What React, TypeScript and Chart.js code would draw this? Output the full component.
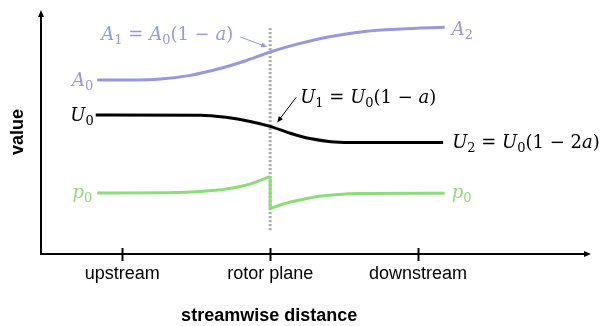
import { useEffect, useRef } from 'react';
import { Chart, registerables } from 'chart.js';

Chart.register(...registerables);

// Streamwise position: rotor plane at 0, one unit between stations.
const stationValues = [-1, 0, 1];
const stationLabels = ['upstream', 'rotor plane', 'downstream'];
const xTitle = 'streamwise distance';
const yTitle = 'value';

// Stream-tube area A
const areaX = [-1.17, -0.95, -0.74, -0.54, -0.34, -0.17, 0, 0.19, 0.41, 0.64, 0.88, 1.18];
const areaY = [71.3, 71.3, 71.7, 73.2, 76.0, 79.1, 82.8, 86.1, 89.1, 91.2, 92.2, 92.9];

// Axial velocity U
const velocityX = [-1.18, -0.47, -0.3, -0.135, 0, 0.135, 0.27, 0.41, 0.54, 1.17];
const velocityY = [57.0, 56.9, 56.0, 54.3, 52.3, 49.5, 47.3, 46.0, 45.7, 45.7];

// Static pressure p, before and after the pressure jump at the rotor
const pressureUpX = [-1.17, -0.68, -0.47, -0.3, -0.135, 0];
const pressureUpY = [25.0, 25.1, 25.6, 26.6, 28.7, 31.7];
const pressureDownX = [0, 0.068, 0.169, 0.304, 0.44, 0.609, 1.18];
const pressureDownY = [18.6, 20.1, 21.7, 23.4, 24.3, 24.8, 24.9];

// Extent of the dotted rotor-plane marker
const rotorLineY = [9.8, 93.4];

const AREA_COLOR = '#9898e0';
const VELOCITY_COLOR = '#000000';
const PRESSURE_COLOR = '#8cdc78';
const ROTOR_COLOR = '#aaaaaa';

type Piece = [string, 'i' | 'n' | 's'];

const labelA0: Piece[] = [['A', 'i'], ['0', 's']];
const labelA1: Piece[] = [['A', 'i'], ['1', 's'], [' = ', 'n'], ['A', 'i'], ['0', 's'], ['(1 − ', 'n'], ['a', 'i'], [')', 'n']];
const labelA2: Piece[] = [['A', 'i'], ['2', 's']];
const labelU0: Piece[] = [['U', 'i'], ['0', 's']];
const labelU1: Piece[] = [['U', 'i'], ['1', 's'], [' = ', 'n'], ['U', 'i'], ['0', 's'], ['(1 − ', 'n'], ['a', 'i'], [')', 'n']];
const labelU2: Piece[] = [['U', 'i'], ['2', 's'], [' = ', 'n'], ['U', 'i'], ['0', 's'], ['(1 − 2', 'n'], ['a', 'i'], [')', 'n']];
const labelP0: Piece[] = [['p', 'i'], ['0', 's']];

const MATH_FAMILY = '"DejaVu Serif", serif';
const MATH_SIZE = 18;
const SANS = '"Liberation Sans", Arial, sans-serif';

const zip = (xs: number[], ys: number[]) => xs.map((x, i) => ({ x, y: ys[i] }));

function pieceFont(kind: string, size: number) {
  if (kind === 'i') return `italic ${size}px ${MATH_FAMILY}`;
  if (kind === 's') return `${Math.round(size * 0.74)}px ${MATH_FAMILY}`;
  return `${size}px ${MATH_FAMILY}`;
}

function mathWidth(ctx: CanvasRenderingContext2D, pieces: Piece[], size: number) {
  let w = 0;
  for (const [t, k] of pieces) {
    ctx.font = pieceFont(k, size);
    w += ctx.measureText(t).width;
  }
  return w;
}

function drawMath(
  ctx: CanvasRenderingContext2D,
  pieces: Piece[],
  x: number,
  y: number,
  align: 'left' | 'right',
  color: string,
  size = MATH_SIZE
) {
  const w = mathWidth(ctx, pieces, size);
  let cx = align === 'right' ? x - w : x;
  ctx.save();
  ctx.fillStyle = color;
  ctx.textAlign = 'left';
  ctx.textBaseline = 'alphabetic';
  for (const [t, k] of pieces) {
    ctx.font = pieceFont(k, size);
    const dy = k === 's' ? size * 0.22 : 0;
    ctx.fillText(t, cx, y + dy);
    cx += ctx.measureText(t).width;
  }
  ctx.restore();
}

function arrow(
  ctx: CanvasRenderingContext2D,
  x0: number,
  y0: number,
  x1: number,
  y1: number,
  color: string,
  width: number,
  head: number
) {
  const ang = Math.atan2(y1 - y0, x1 - x0);
  ctx.save();
  ctx.strokeStyle = color;
  ctx.fillStyle = color;
  ctx.lineWidth = width;
  ctx.beginPath();
  ctx.moveTo(x0, y0);
  ctx.lineTo(x1 - Math.cos(ang) * head * 0.6, y1 - Math.sin(ang) * head * 0.6);
  ctx.stroke();
  ctx.beginPath();
  ctx.moveTo(x1, y1);
  ctx.lineTo(
    x1 - Math.cos(ang) * head + Math.sin(ang) * head * 0.42,
    y1 - Math.sin(ang) * head - Math.cos(ang) * head * 0.42
  );
  ctx.lineTo(
    x1 - Math.cos(ang) * head - Math.sin(ang) * head * 0.42,
    y1 - Math.sin(ang) * head + Math.cos(ang) * head * 0.42
  );
  ctx.closePath();
  ctx.fill();
  ctx.restore();
}

const diagramDecor = {
  id: 'diagramDecor',
  beforeDatasetsDraw(chart: any) {
    const { ctx, chartArea, scales } = chart;
    const { left, right, top, bottom } = chartArea;
    const xs = scales.x;
    ctx.save();
    // axes with arrow heads
    arrow(ctx, left, bottom + 1, left, top, '#000', 2, 7);
    arrow(ctx, left - 1, bottom, right, bottom, '#000', 2, 7);
    // station ticks
    ctx.strokeStyle = '#000';
    ctx.lineWidth = 2;
    stationValues.forEach((v) => {
      const px = Math.round(xs.getPixelForValue(v)) + 0.5;
      ctx.beginPath();
      ctx.moveTo(px, bottom - 6);
      ctx.lineTo(px, bottom + 7);
      ctx.stroke();
    });
    ctx.fillStyle = '#000';
    ctx.font = `18px ${SANS}`;
    ctx.textAlign = 'center';
    ctx.textBaseline = 'alphabetic';
    stationValues.forEach((v, i) => {
      ctx.fillText(stationLabels[i], xs.getPixelForValue(v), bottom + 25);
    });
    ctx.font = `bold 18px ${SANS}`;
    ctx.fillText(xTitle, xs.getPixelForValue(0) - 1, bottom + 67);
    ctx.translate(left - 23, (top + bottom) / 2);
    ctx.rotate(-Math.PI / 2);
    ctx.textBaseline = 'middle';
    ctx.fillText(yTitle, 0, 0);
    ctx.restore();
  },
  afterDatasetsDraw(chart: any) {
    const { ctx, scales } = chart;
    const xs = scales.x;
    const ys = scales.y;
    const pt = (x: number, y: number) => ({ x: xs.getPixelForValue(x), y: ys.getPixelForValue(y) });

    const aStart = pt(areaX[0], areaY[0]);
    const aEnd = pt(areaX[areaX.length - 1], areaY[areaY.length - 1]);
    const ai = areaX.indexOf(0);
    const aRotor = pt(areaX[ai], areaY[ai]);

    const uStart = pt(velocityX[0], velocityY[0]);
    const uEnd = pt(velocityX[velocityX.length - 1], velocityY[velocityY.length - 1]);
    const ui = velocityX.indexOf(0);
    const uRotor = pt(velocityX[ui], velocityY[ui]);

    const pStart = pt(pressureUpX[0], pressureUpY[0]);
    const pEnd = pt(pressureDownX[pressureDownX.length - 1], pressureDownY[pressureDownY.length - 1]);

    drawMath(ctx, labelA0, aStart.x - 4, aStart.y + 6, 'right', AREA_COLOR);
    drawMath(ctx, labelA2, aEnd.x + 7, aEnd.y + 8, 'left', AREA_COLOR);
    drawMath(ctx, labelA1, aRotor.x - 37, aRotor.y - 12, 'right', AREA_COLOR);
    arrow(ctx, aRotor.x - 30, aRotor.y - 15, aRotor.x - 3, aRotor.y - 5, AREA_COLOR, 1, 6);

    drawMath(ctx, labelU0, uStart.x - 2, uStart.y + 6, 'right', VELOCITY_COLOR);
    drawMath(ctx, labelU1, uRotor.x + 30, uRotor.y - 23, 'left', VELOCITY_COLOR);
    arrow(ctx, uRotor.x + 26, uRotor.y - 29, uRotor.x + 7, uRotor.y - 4, VELOCITY_COLOR, 1, 6);
    drawMath(ctx, labelU2, uEnd.x + 9, uEnd.y + 6, 'left', VELOCITY_COLOR);

    drawMath(ctx, labelP0, pStart.x - 5, pStart.y + 5, 'right', PRESSURE_COLOR);
    drawMath(ctx, labelP0, pEnd.x + 7, pEnd.y + 5, 'left', PRESSURE_COLOR);
  },
};

export default function App() {
  const canvasRef = useRef<HTMLCanvasElement | null>(null);

  useEffect(() => {
    const canvas = canvasRef.current;
    if (!canvas) return;
    const curve = {
      borderWidth: 3,
      pointRadius: 0,
      fill: false,
      cubicInterpolationMode: 'monotone' as const,
      borderCapStyle: 'butt' as const,
    };
    const pressureDrop = [
      { x: pressureUpX[pressureUpX.length - 1], y: pressureUpY[pressureUpY.length - 1] },
      { x: pressureDownX[0], y: pressureDownY[0] },
    ];
    const chart = new Chart(canvas, {
      type: 'line',
      data: {
        datasets: [
          { label: 'A', data: zip(areaX, areaY), borderColor: AREA_COLOR, ...curve },
          { label: 'U', data: zip(velocityX, velocityY), borderColor: VELOCITY_COLOR, ...curve },
          { label: 'p upstream', data: zip(pressureUpX, pressureUpY), borderColor: PRESSURE_COLOR, ...curve },
          { label: 'p jump', data: pressureDrop, borderColor: PRESSURE_COLOR, borderWidth: 3, pointRadius: 0, tension: 0 },
          { label: 'p downstream', data: zip(pressureDownX, pressureDownY), borderColor: PRESSURE_COLOR, ...curve },
          {
            label: 'rotor plane',
            data: [
              { x: 0, y: rotorLineY[0] },
              { x: 0, y: rotorLineY[1] },
            ],
            borderColor: ROTOR_COLOR,
            borderWidth: 3,
            borderDash: [2, 2],
            pointRadius: 0,
            tension: 0,
          },
        ],
      },
      options: {
        animation: false,
        responsive: false,
        devicePixelRatio: 1,
        parsing: false as any,
        layout: { padding: { left: 41, right: 9, top: 10, bottom: 72 } },
        scales: {
          x: { type: 'linear', min: -1.55, max: 2.17, display: false },
          y: { type: 'linear', min: 0, max: 100, display: false },
        },
        plugins: { legend: { display: false }, tooltip: { enabled: false } },
      },
      plugins: [diagramDecor],
    });
    return () => chart.destroy();
  }, []);

  return (
    <div style={{ position: 'absolute', left: 0, top: 0, width: 600, height: 326, background: '#fff' }}>
      <canvas ref={canvasRef} width={600} height={326} />
    </div>
  );
}
